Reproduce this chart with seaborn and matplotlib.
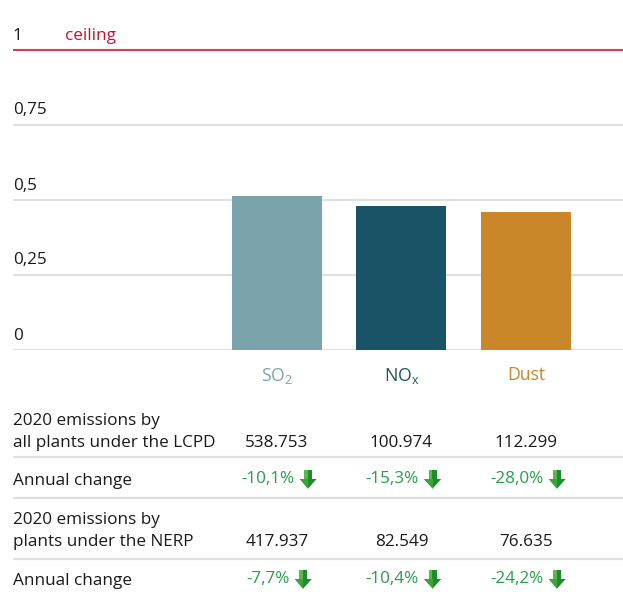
import matplotlib
matplotlib.use("Agg")
import matplotlib.pyplot as plt
import matplotlib.transforms as mtransforms
from matplotlib.offsetbox import TextArea, DrawingArea, HPacker, AnnotationBbox
from matplotlib.patches import Polygon
import seaborn as sns
import pandas as pd

# ---- data -------------------------------------------------------------
pollutants = ["SO2", "NOx", "Dust"]
pollutant_labels = ["SO$_\\mathregular{2}$", "NO$_\\mathregular{x}$", "Dust"]
ratio_to_ceiling = [0.512, 0.48, 0.46]
bar_colors = ["#7ba3ac", "#1b5366", "#ca872a"]

y_ticks = [0, 0.25, 0.5, 0.75]
y_tick_labels = ["0", "0,25", "0,5", "0,75"]
ceiling_value = 1
ceiling_tick_label = "1"
ceiling_label = "ceiling"

lcpd_label = ["2020 emissions by", "all plants under the LCPD"]
lcpd_emissions = ["538.753", "100.974", "112.299"]
nerp_label = ["2020 emissions by", "plants under the NERP"]
nerp_emissions = ["417.937", "82.549", "76.635"]
change_label = "Annual change"
lcpd_change = ["-10,1%", "-15,3%", "-28,0%"]
nerp_change = ["-7,7%", "-10,4%", "-24,2%"]

# ---- style ------------------------------------------------------------
sns.set_theme(style="white")
plt.rcParams["font.family"] = ["Open Sans", "DejaVu Sans"]
plt.rcParams["mathtext.fontset"] = "custom"
plt.rcParams["mathtext.rm"] = "Open Sans"

FS = 12.3
TEXT = "#1a1a1a"
GRID = "#e0e0e0"
RED_LINE = "#d4405b"
RED_TEXT = "#c8102e"
GREEN = "#25a048"

W, H = 623, 592
fig = plt.figure(figsize=(W / 100, H / 100), dpi=100)

# ---- bar chart --------------------------------------------------------
ax = fig.add_axes([13 / W, 1 - 350 / H, (W - 13) / W, 330 / H])
df = pd.DataFrame({"pollutant": pollutants, "ratio": ratio_to_ceiling})
sns.barplot(data=df, x="pollutant", y="ratio", hue="pollutant",
            palette=bar_colors, width=0.723, saturation=1, linewidth=0,
            legend=False, ax=ax, zorder=3)
ax.set_xlim(-2.12, 2.78)
ax.set_ylim(0, 1.1)
for s in ax.spines.values():
    s.set_visible(False)
ax.set_xlabel("")
ax.set_ylabel("")
ax.set_yticks([])

for v in y_ticks:
    ax.axhline(v, color=GRID, lw=1.6, zorder=1)
ax.axhline(ceiling_value, color=RED_LINE, lw=1.5, zorder=1)

lab_trans = mtransforms.offset_copy(ax.get_yaxis_transform(), fig=fig,
                                    x=0, y=10.5, units="dots")
for v, lab in zip(y_ticks, y_tick_labels):
    ax.text(0, v, lab, transform=lab_trans, ha="left", va="baseline",
            fontsize=FS, color=TEXT)
ax.text(0, ceiling_value, ceiling_tick_label, transform=lab_trans,
        ha="left", va="baseline", fontsize=FS, color=TEXT)
ax.text(52 / 610, ceiling_value, ceiling_label, transform=lab_trans,
        ha="left", va="baseline", fontsize=FS, color=RED_TEXT)

ax.set_xticks(range(len(pollutants)), pollutant_labels)
ax.tick_params(axis="x", length=0, pad=11.5, labelsize=FS + 0.4)
for tl, c in zip(ax.get_xticklabels(), bar_colors):
    tl.set_color(c)

# ---- table below ------------------------------------------------------
tab = fig.add_axes([0, 0, 1, 200 / H])
tab.set_xlim(0, W)
tab.set_ylim(H, H - 200)
tab.axis("off")

centers = [ax.transData.transform((i, 0))[0] for i in range(3)]
centers = [c * W / fig.bbox.width for c in centers]

for y in [457, 498, 559]:
    tab.plot([13, W], [y, y], color=GRID, lw=1.6, solid_capstyle="butt")

def row_label(lines, baselines):
    for t, b in zip(lines, baselines):
        tab.text(13, b, t, ha="left", va="baseline", fontsize=FS, color=TEXT)

row_label(lcpd_label, [425, 447])
row_label([change_label], [485])
row_label(nerp_label, [524, 546])
row_label([change_label], [585])

for c, v in zip(centers, lcpd_emissions):
    tab.text(c, 447, v, ha="center", va="baseline", fontsize=FS, color=TEXT)
for c, v in zip(centers, nerp_emissions):
    tab.text(c, 546, v, ha="center", va="baseline", fontsize=FS, color=TEXT)

def down_arrow():
    k = 0.72  # px -> pt
    da = DrawingArea(17 * k, 19 * k, 0, 0)
    def poly(pts, col):
        da.add_artist(Polygon([(x * k, y * k) for x, y in pts], closed=True,
                              facecolor=col, edgecolor="none"))
    poly([(4.5, 9), (12.5, 9), (12.5, 19), (4.5, 19)], "#1e8c2c")
    poly([(0, 9.5), (17, 9.5), (8.5, 0)], "#1e8c2c")
    poly([(4.5, 9.5), (8, 9.5), (8, 19), (4.5, 19)], "#5cb84a")
    poly([(0, 9.5), (8.5, 9.5), (8.5, 0)], "#3aa43a")
    return da

def change_cell(c, y, text):
    ta = TextArea(text, textprops=dict(fontsize=FS, color=GREEN))
    box = HPacker(children=[ta, down_arrow()], align="center", pad=0, sep=3.8)
    ab = AnnotationBbox(box, (c + 2, y), xycoords="data", frameon=False,
                        box_alignment=(0.5, 0.5), pad=0)
    tab.add_artist(ab)

for c, v in zip(centers, lcpd_change):
    change_cell(c, 479, v)
for c, v in zip(centers, nerp_change):
    change_cell(c, 579, v)

fig.savefig("out.png", dpi=100)
